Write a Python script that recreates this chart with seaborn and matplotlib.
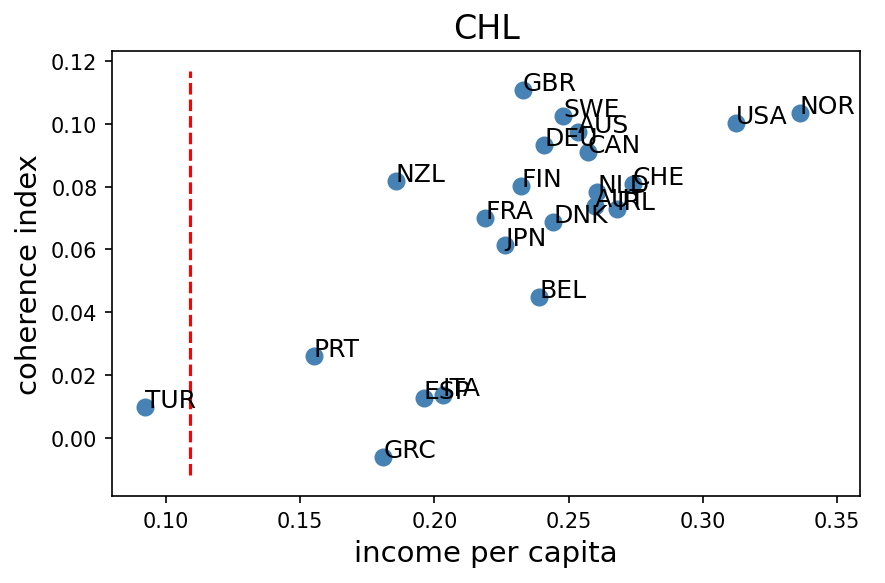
import matplotlib
matplotlib.use("Agg")
import matplotlib.pyplot as plt
import seaborn as sns
import pandas as pd

# 国家代码及其坐标
countries = ['TUR', 'PRT', 'ESP', 'ITA', 'GRC', 'NZL', 'FRA', 'JPN', 'FIN', 'BEL',
             'GBR', 'DEU', 'SWE', 'AUS', 'CAN', 'NLD', 'AUT', 'IRL', 'CHE', 'DNK',
             'USA', 'NOR']
income = [0.0922, 0.1551, 0.1961, 0.2032, 0.1810, 0.1857, 0.2189, 0.2263, 0.2323, 0.2390,
          0.2330, 0.2409, 0.2479, 0.2535, 0.2572, 0.2606, 0.2598, 0.2680, 0.2740, 0.2442,
          0.3124, 0.3362]
coherence = [0.0099, 0.0261, 0.0127, 0.0137, -0.0061, 0.0818, 0.0701, 0.0615, 0.0803, 0.0449,
             0.1108, 0.0933, 0.1025, 0.0975, 0.0911, 0.0783, 0.0739, 0.0729, 0.0809, 0.0688,
             0.1003, 0.1035]

# 参考国家 (CHL) 的收入线
ref_country = 'CHL'
ref_income = 0.1089
line_range = [-0.0118, 0.1168]

df = pd.DataFrame({'country': countries, 'income': income, 'coherence': coherence})

fig, ax = plt.subplots(figsize=(5.9, 3.893), dpi=150)
sns.scatterplot(data=df, x='income', y='coherence', color='steelblue',
                s=75, linewidth=0, ax=ax)
for _, row in df.iterrows():
    ax.text(row['income'], row['coherence'], row['country'], fontsize=12)

ax.vlines(ref_income, line_range[0], line_range[1], colors='red', linestyles='--')

ax.set_title(ref_country, fontsize=16)
ax.set_xlabel('income per capita', fontsize=14)
ax.set_ylabel('coherence index', fontsize=14)
ax.set_xlim(0.0799, 0.3586)
ax.set_ylim(-0.0185, 0.1232)
ax.tick_params(labelsize=10)

plt.subplots_adjust(left=0.1266, right=0.9718, top=0.911, bottom=0.149)
plt.savefig('out.png', dpi=150)
